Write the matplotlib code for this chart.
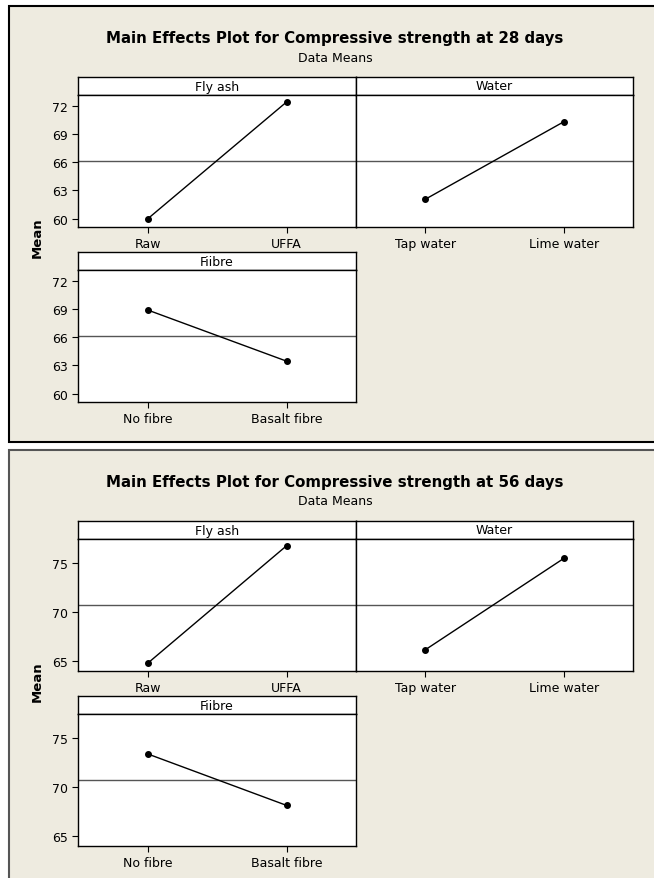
import matplotlib
matplotlib.use('Agg')
from matplotlib import pyplot as plt
from matplotlib import patches as mp

W, H = 654, 879

levels = {
    'Fly ash': ['Raw', 'UFFA'],
    'Water': ['Tap water', 'Lime water'],
    'Fiibre': ['No fibre', 'Basalt fibre'],
}

# 28 days means
means28 = {
    'Fly ash': [59.95, 72.4],
    'Water': [62.05, 70.3],
    'Fiibre': [68.9, 63.45],
}
grand28 = 66.15
ticks28 = [60, 63, 66, 69, 72]

# 56 days means
means56 = {
    'Fly ash': [64.7, 76.8],
    'Water': [66.1, 75.5],
    'Fiibre': [73.4, 68.1],
}
grand56 = 70.75
ticks56 = [65, 70, 75]

bg = '#EEEBE0'
plt.rcParams['font.family'] = 'DejaVu Sans'


def box(x0, y0, x1, y1):
    return [x0 / W, 1 - y1 / H, (x1 - x0) / W, (y1 - y0) / H]


def panel(fig, top, height, days, means, grand, ticks, ylim, edge):
    # panel background
    x0, y0 = 9, top
    r = mp.Rectangle((x0 / W, 1 - (y0 + height) / H), (W + 20 - x0) / W, height / H,
                     transform=fig.transFigure, facecolor=bg, edgecolor=edge,
                     linewidth=1.5, zorder=-10)
    fig.patches.append(r)
    fig.text(335 / W, 1 - (top + 32) / H,
             'Main Effects Plot for Compressive strength at %d days' % days,
             ha='center', va='center', fontsize=10.8, fontweight='bold')
    fig.text(335 / W, 1 - (top + 51) / H, 'Data Means',
             ha='center', va='center', fontsize=9)
    fig.text(37 / W, 1 - (top + 231) / H, 'Mean', rotation=90,
             ha='center', va='center', fontsize=9.5, fontweight='bold')

    cells = [('Fly ash', 78, 356, top + 71), ('Water', 356, 633, top + 71),
             ('Fiibre', 78, 356, top + 246)]
    for name, xa, xb, ys in cells:
        sax = fig.add_axes(box(xa, ys, xb, ys + 18))
        sax.set_facecolor('white')
        sax.set_xticks([])
        sax.set_yticks([])
        sax.text(0.5, 0.5, name, ha='center', va='center', fontsize=9,
                 transform=sax.transAxes)
        for s in sax.spines.values():
            s.set_linewidth(1)

        ax = fig.add_axes(box(xa, ys + 18, xb, ys + 150))
        ax.set_facecolor('white')
        ax.axhline(grand, color='#555555', linewidth=1, zorder=1)
        ax.plot([0, 1], means[name], color='black', linewidth=1,
                marker='o', markersize=4, zorder=3)
        ax.set_xlim(-0.5, 1.5)
        ax.set_ylim(*ylim)
        ax.set_xticks([0, 1])
        ax.set_xticklabels(levels[name], fontsize=9)
        if name == 'Water':
            ax.set_yticks([])
        else:
            ax.set_yticks(ticks)
            ax.set_yticklabels([str(t) for t in ticks], fontsize=9)
        ax.tick_params(direction='out', length=4, width=0.8, pad=3)
        for s in ax.spines.values():
            s.set_linewidth(1)


fig = plt.figure(figsize=(W / 100, H / 100), dpi=100)
fig.patch.set_facecolor('white')

panel(fig, 7, 436, 28, means28, grand28, ticks28, (59.1, 73.15), 'black')
panel(fig, 451, 460, 56, means56, grand56, ticks56, (63.92, 77.5), '#555555')

fig.savefig('out.png', dpi=100, facecolor=fig.get_facecolor())
